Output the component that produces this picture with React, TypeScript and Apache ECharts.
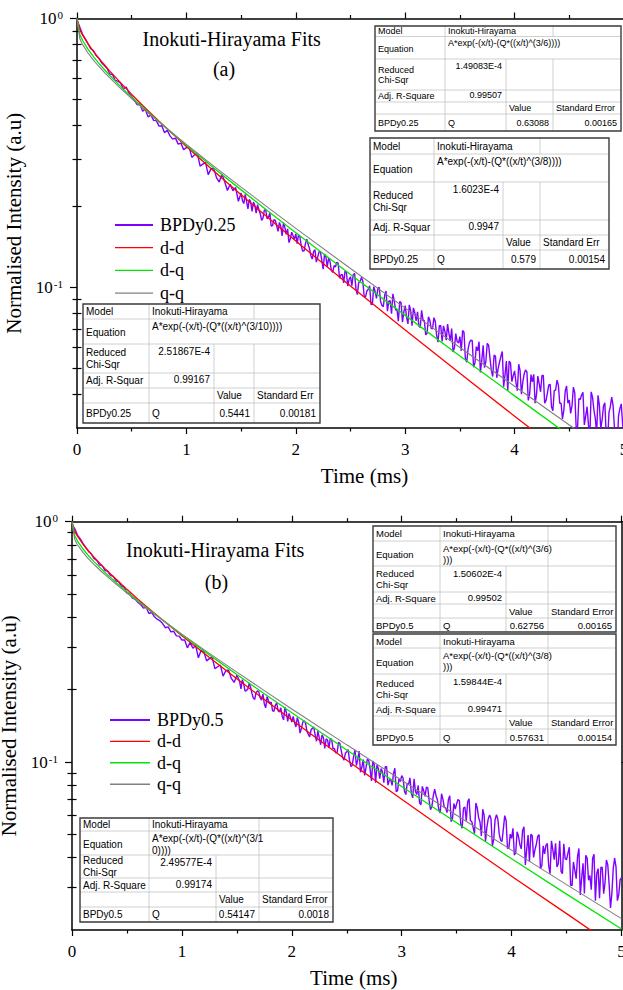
import React, { useEffect, useRef } from 'react';
import * as echarts from 'echarts';

const SERIF = 'Liberation Serif, Times New Roman, serif';
const SANS = 'Liberation Sans, Arial, sans-serif';

// ---------- data ----------
// measured decays: coarse sampling up to 1.5 ms, finer sampling after it
const HEAD_STEP = 0.025; // ms, t = 0 .. 1.5
const TAIL_START = 1.5;
const TAIL_STEP = 0.0125; // ms, t = 1.5125 .. 5

const bpdy025Head = [
  0.985, 0.930, 0.875, 0.842, 0.806, 0.772, 0.760, 0.728, 0.712, 0.684,
  0.668, 0.652, 0.622, 0.618, 0.588, 0.585, 0.574, 0.548, 0.556, 0.528,
  0.512, 0.495, 0.478, 0.481, 0.452, 0.459, 0.430, 0.438, 0.418, 0.417,
  0.398, 0.399, 0.376, 0.384, 0.366, 0.356, 0.359, 0.341, 0.344, 0.325,
  0.331,
  0.3318, 0.3044, 0.3111, 0.3156, 0.2826, 0.2872, 0.2915, 0.2623, 0.2765, 0.2772,
  0.2561, 0.2464, 0.2641, 0.2472, 0.2292, 0.2418, 0.2286, 0.2351, 0.2091, 0.2245,
];
const bpdy025Tail = [
  0.2100, 0.2050, 0.2220, 0.2088, 0.1960, 0.2124, 0.2080, 0.1915, 0.2075, 0.2023,
  0.1887, 0.2032, 0.1944, 0.1880, 0.1777, 0.1811, 0.1938, 0.1944, 0.1801, 0.1821,
  0.1893, 0.1692, 0.1699, 0.1787, 0.1777, 0.1693, 0.1615, 0.1744, 0.1691, 0.1554,
  0.1741, 0.1672, 0.1574, 0.1651, 0.1468, 0.1518, 0.1605, 0.1555, 0.1512, 0.1582,
  0.1455, 0.1567, 0.1543, 0.1424, 0.1365, 0.1365, 0.1451, 0.1510, 0.1446, 0.1396,
  0.1315, 0.1274, 0.1358, 0.1381, 0.1242, 0.1294, 0.1358, 0.1354, 0.1263, 0.1168,
  0.1330, 0.1298, 0.1194, 0.1286, 0.1250, 0.1158, 0.1137, 0.1205, 0.1192, 0.1241,
  0.1229, 0.1082, 0.1112, 0.1118, 0.1039, 0.1151, 0.1136, 0.1011, 0.1071, 0.1096,
  0.1015, 0.1117, 0.1127, 0.0987, 0.0940, 0.1044, 0.1050, 0.1090, 0.1057, 0.0925,
  0.0922, 0.0970, 0.0984, 0.1014, 0.0864, 0.0866, 0.1007, 0.0966, 0.0911, 0.0990,
  0.1000, 0.0886, 0.0857, 0.0848, 0.0935, 0.0970, 0.0816, 0.0888, 0.0892, 0.0799,
  0.0947, 0.0891, 0.0823, 0.0829, 0.0748, 0.0886, 0.0876, 0.0743, 0.0811, 0.0856,
  0.0773, 0.0732, 0.0861, 0.0818, 0.0720, 0.0839, 0.0805, 0.0751, 0.0811, 0.0718,
  0.0709, 0.0822, 0.0757, 0.0751, 0.0666, 0.0675, 0.0777, 0.0754, 0.0704, 0.0701,
  0.0772, 0.0747, 0.0662, 0.0626, 0.0721, 0.0721, 0.0630, 0.0719, 0.0688, 0.0636,
  0.0730, 0.0673, 0.0633, 0.0703, 0.0575, 0.0597, 0.0673, 0.0628, 0.0622, 0.0656,
  0.0581, 0.0691, 0.0681, 0.0544, 0.0527, 0.0591, 0.0625, 0.0636, 0.0635, 0.0505,
  0.0524, 0.0602, 0.0581, 0.0628, 0.0483, 0.0535, 0.0609, 0.0503, 0.0531, 0.0619,
  0.0610, 0.0546, 0.0491, 0.0466, 0.0560, 0.0554, 0.0461, 0.0501, 0.0528, 0.0555,
  0.0578, 0.0427, 0.0474, 0.0532, 0.0413, 0.0532, 0.0524, 0.0446, 0.0470, 0.0489,
  0.0442, 0.0413, 0.0518, 0.0491, 0.0401, 0.0444, 0.0477, 0.0493, 0.0485, 0.0380,
  0.0401, 0.0474, 0.0445, 0.0475, 0.0371, 0.0398, 0.0468, 0.0438, 0.0409, 0.0470,
  0.0470, 0.0371, 0.0380, 0.0405, 0.0434, 0.0436, 0.0359, 0.0348, 0.0413, 0.0415,
  0.0452, 0.0434, 0.0371, 0.0371, 0.0324, 0.0349, 0.0411, 0.0430, 0.0371, 0.0381,
  0.0340, 0.0364, 0.0426, 0.0405, 0.0302, 0.0298, 0.0386, 0.0383, 0.0398, 0.0407,
  0.0308, 0.0333, 0.0360, 0.0308, 0.0279, 0.0409, 0.0391, 0.0350, 0.0326, 0.0286,
  0.0397, 0.0364, 0.0299, 0.0322, 0.0362, 0.0372, 0.0280, 0.0264, 0.0342, 0.0360,
  0.0391, 0.0364, 0.0302, 0.0290, 0.0250, 0.0333, 0.0354, 0.0369, 0.0309, 0.0271,
];

const bpdy05Head = [
  0.970, 0.935, 0.880, 0.848, 0.812, 0.781, 0.752, 0.735, 0.704, 0.690,
  0.662, 0.655, 0.628, 0.622, 0.598, 0.592, 0.568, 0.562, 0.540, 0.535,
  0.505, 0.503, 0.481, 0.476, 0.461, 0.452, 0.437, 0.440, 0.415, 0.419,
  0.402, 0.393, 0.387, 0.377, 0.362, 0.365, 0.348, 0.350, 0.335, 0.334,
  0.322,
  0.3222, 0.2987, 0.3148, 0.2975, 0.3056, 0.2716, 0.2915, 0.2873, 0.2635, 0.2692,
  0.2733, 0.2449, 0.2491, 0.2531, 0.2278, 0.2403, 0.2411, 0.2228, 0.2144, 0.2298,
];
const bpdy05Tail = [
  0.2236, 0.2166, 0.2016, 0.2202, 0.2109, 0.1975, 0.1983, 0.2012, 0.2131, 0.2047,
  0.1929, 0.1845, 0.1822, 0.1948, 0.1976, 0.1958, 0.1847, 0.1811, 0.1917, 0.1745,
  0.1680, 0.1873, 0.1798, 0.1755, 0.1777, 0.1632, 0.1627, 0.1723, 0.1761, 0.1633,
  0.1615, 0.1681, 0.1552, 0.1498, 0.1690, 0.1612, 0.1475, 0.1592, 0.1534, 0.1465,
  0.1549, 0.1460, 0.1399, 0.1529, 0.1466, 0.1319, 0.1381, 0.1465, 0.1485, 0.1451,
  0.1344, 0.1307, 0.1273, 0.1359, 0.1382, 0.1399, 0.1294, 0.1220, 0.1344, 0.1260,
  0.1180, 0.1298, 0.1263, 0.1139, 0.1250, 0.1235, 0.1146, 0.1252, 0.1242, 0.1138,
  0.1140, 0.1091, 0.1096, 0.1208, 0.1195, 0.1116, 0.1044, 0.1019, 0.1087, 0.1104,
  0.1126, 0.1019, 0.0958, 0.0970, 0.1056, 0.1125, 0.0967, 0.1020, 0.1110, 0.0907,
  0.0951, 0.1023, 0.0880, 0.0945, 0.1028, 0.1015, 0.0934, 0.0835, 0.1009, 0.0976,
  0.0820, 0.0973, 0.0940, 0.0852, 0.0939, 0.0910, 0.0820, 0.0956, 0.0957, 0.0801,
  0.0841, 0.0848, 0.0800, 0.0893, 0.0942, 0.0753, 0.0760, 0.0852, 0.0830, 0.0878,
  0.0858, 0.0756, 0.0732, 0.0813, 0.0808, 0.0859, 0.0742, 0.0709, 0.0852, 0.0755,
  0.0732, 0.0799, 0.0677, 0.0664, 0.0792, 0.0760, 0.0720, 0.0786, 0.0780, 0.0689,
  0.0633, 0.0654, 0.0725, 0.0771, 0.0724, 0.0695, 0.0633, 0.0613, 0.0738, 0.0701,
  0.0648, 0.0644, 0.0616, 0.0698, 0.0724, 0.0565, 0.0584, 0.0672, 0.0637, 0.0670,
  0.0698, 0.0690, 0.0551, 0.0530, 0.0644, 0.0650, 0.0570, 0.0682, 0.0704, 0.0571,
  0.0565, 0.0533, 0.0504, 0.0675, 0.0644, 0.0587, 0.0563, 0.0492, 0.0636, 0.0600,
  0.0467, 0.0535, 0.0580, 0.0602, 0.0581, 0.0447, 0.0477, 0.0577, 0.0603, 0.0578,
  0.0501, 0.0473, 0.0467, 0.0527, 0.0598, 0.0571, 0.0437, 0.0437, 0.0501, 0.0481,
  0.0530, 0.0410, 0.0420, 0.0513, 0.0491, 0.0454, 0.0435, 0.0519, 0.0538, 0.0373,
  0.0432, 0.0497, 0.0386, 0.0500, 0.0494, 0.0401, 0.0432, 0.0455, 0.0490, 0.0499,
  0.0360, 0.0370, 0.0448, 0.0415, 0.0450, 0.0458, 0.0371, 0.0343, 0.0470, 0.0432,
  0.0392, 0.0459, 0.0366, 0.0377, 0.0470, 0.0351, 0.0343, 0.0457, 0.0395, 0.0393,
  0.0418, 0.0442, 0.0307, 0.0306, 0.0384, 0.0355, 0.0327, 0.0404, 0.0437, 0.0280,
  0.0329, 0.0379, 0.0284, 0.0409, 0.0398, 0.0322, 0.0337, 0.0294, 0.0398, 0.0413,
  0.0265, 0.0345, 0.0360, 0.0271, 0.0365, 0.0364, 0.0283, 0.0314, 0.0391, 0.0374,
  0.0310, 0.0247, 0.0284, 0.0361, 0.0398, 0.0366, 0.0265, 0.0280, 0.0324, 0.0330,
];

const fitTimes = [0, 0.025, 0.05, 0.1, 0.15, 0.2, 0.25, 0.3, 0.4, 0.5, 0.6, 0.75, 1, 1.25, 1.5, 1.75, 2, 2.5, 3, 3.5, 4, 4.5, 5];

const ddA = [1.0, 0.911, 0.869, 0.806, 0.755, 0.711, 0.673, 0.637, 0.576, 0.522, 0.475, 0.415, 0.334, 0.271, 0.221, 0.181, 0.1487, 0.1012, 0.0695, 0.0479, 0.0332, 0.0231, 0.0161];
const dqA = [1.0, 0.873, 0.830, 0.769, 0.721, 0.681, 0.646, 0.614, 0.558, 0.510, 0.468, 0.413, 0.3376, 0.2782, 0.2305, 0.1916, 0.1597, 0.1117, 0.0787, 0.0556, 0.0395, 0.0281, 0.0201];
const qqA = [1.0, 0.843, 0.801, 0.744, 0.700, 0.663, 0.630, 0.601, 0.549, 0.5036, 0.4638, 0.4117, 0.340, 0.2826, 0.236, 0.1976, 0.1658, 0.1175, 0.0837, 0.0598, 0.0429, 0.0308, 0.0222];

const ddB = [1.0, 0.912, 0.870, 0.807, 0.756, 0.712, 0.674, 0.638, 0.577, 0.523, 0.476, 0.416, 0.335, 0.272, 0.222, 0.182, 0.1495, 0.1018, 0.0700, 0.0483, 0.0335, 0.0234, 0.0163];
const dqB = [1.0, 0.874, 0.831, 0.770, 0.722, 0.682, 0.647, 0.615, 0.559, 0.511, 0.469, 0.414, 0.3385, 0.2791, 0.2313, 0.1923, 0.1604, 0.1122, 0.0791, 0.0559, 0.0396, 0.0282, 0.0202];
const qqB = [1.0, 0.844, 0.802, 0.745, 0.701, 0.664, 0.631, 0.602, 0.550, 0.5044, 0.4646, 0.4125, 0.3407, 0.2833, 0.2366, 0.1982, 0.1663, 0.1179, 0.0840, 0.0600, 0.0430, 0.0309, 0.0223];

const xTicks = [0, 5, 1]; // min, max, interval
const yMajorTicks = [0.1, 1];
const yMinorTicksA = [0.04, 0.05, 0.06, 0.07, 0.08, 0.09, 0.2, 0.3, 0.4, 0.5, 0.6, 0.7, 0.8, 0.9];
const yMinorTicksB = [0.03, 0.04, 0.05, 0.06, 0.07, 0.08, 0.09, 0.2, 0.3, 0.4, 0.5, 0.6, 0.7, 0.8, 0.9];
const yMinA = 0.03;
const yMinB = 0.02;

const seriesNamesA = ['BPDy0.25', 'd-d', 'd-q', 'q-q'];
const seriesNamesB = ['BPDy0.5', 'd-d', 'd-q', 'q-q'];
const seriesColors = ['#8000ff', '#ff0000', '#00e600', '#808080'];

// fit tables
const fitModel = 'Inokuti-Hirayama';
const equationsA = ['A*exp(-(x/t)-(Q*((x/t)^(3/6))))', 'A*exp(-(x/t)-(Q*((x/t)^(3/8))))', 'A*exp(-(x/t)-(Q*((x/t)^(3/10))))'];
const chiSqrA = ['1.49083E-4', '1.6023E-4', '2.51867E-4'];
const adjR2A = ['0.99507', '0.9947', '0.99167'];
const adjLabelA = ['Adj. R-Square', 'Adj. R-Squar', 'Adj. R-Squar'];
const errHeadA = ['Standard Error', 'Standard Err', 'Standard Err'];
const qValueA = ['0.63088', '0.579', '0.5441'];
const qErrorA = ['0.00165', '0.00154', '0.00181'];

const equationsB = ['A*exp(-(x/t)-(Q*((x/t)^(3/6)\n)))', 'A*exp(-(x/t)-(Q*((x/t)^(3/8)\n)))', 'A*exp(-(x/t)-(Q*((x/t)^(3/1\n0))))'];
const chiSqrB = ['1.50602E-4', '1.59844E-4', '2.49577E-4'];
const adjR2B = ['0.99502', '0.99471', '0.99174'];
const adjLabelB = ['Adj. R-Square', 'Adj. R-Square', 'Adj. R-Square'];
const errHeadB = ['Standard Error', 'Standard Error', 'Standard Error'];
const qValueB = ['0.62756', '0.57631', '0.54147'];
const qErrorB = ['0.00165', '0.00154', '0.0018'];

// ---------- layout (positions only) ----------
const tableLayoutA = [
  { cols: [375, 445, 506, 553, 621], rows: [26, 36.5, 59, 90, 102, 114, 131], fs: 9 },
  { cols: [370, 434, 503, 540, 609], rows: [138, 154, 182, 220, 235, 250, 269], fs: 10 },
  { cols: [83, 149, 214, 254, 320], rows: [304, 319, 344, 373, 388, 403, 423], fs: 10 },
];
const tableLayoutB = [
  { cols: [373, 440, 506, 548, 616], rows: [526, 541, 566, 592, 604, 618, 632], fs: 9.5 },
  { cols: [373, 440, 506, 548, 616], rows: [634, 648, 674, 703, 716, 729, 745], fs: 9.5 },
  { cols: [80, 149, 216, 259, 333], rows: [818, 831, 855, 878, 892, 907, 922], fs: 10 },
];

function tText(x: number, y: number, text: string, fs: number, align = 'left', va = 'middle') {
  return {
    type: 'text',
    z: 103,
    silent: true,
    style: {
      x, y, text, fill: '#000', fontSize: fs, fontFamily: SANS,
      align, verticalAlign: va,
      lineHeight: Math.round(fs * 1.15),
    },
  };
}
function tLine(x1: number, y1: number, x2: number, y2: number) {
  return { type: 'line', z: 101, silent: true, shape: { x1, y1, x2, y2 }, style: { stroke: '#c4c4c4', lineWidth: 0.8 } };
}

function buildTable(lay: any, eq: string, chi: string, adjLabel: string, r2: string, errHead: string, sample: string, q: string, err: string, splitEq: boolean) {
  const c = lay.cols;
  const r = lay.rows;
  const fs = lay.fs;
  const els: any[] = [];
  els.push({ type: 'rect', z: 100, silent: true, shape: { x: c[0], y: r[0], width: c[4] - c[0], height: r[6] - r[0] }, style: { fill: '#fff', stroke: null } });
  for (let i = 1; i <= 5; i++) els.push(tLine(c[0], r[i], c[4], r[i]));
  els.push(tLine(c[1], r[0], c[1], r[6]));
  els.push(tLine(c[3], r[0], c[3], r[1]));
  if (splitEq) els.push(tLine(c[3], r[1], c[3], r[2]));
  els.push(tLine(c[2], r[2], c[2], r[6]));
  els.push(tLine(c[3], r[2], c[3], r[6]));
  els.push({ type: 'rect', z: 102, silent: true, shape: { x: c[0], y: r[0], width: c[4] - c[0], height: r[6] - r[0] }, style: { fill: null, stroke: '#3a3a3a', lineWidth: 1.4 } });
  const mid = (i: number) => (r[i] + r[i + 1]) / 2;
  els.push(tText(c[0] + 3, mid(0), 'Model', fs));
  els.push(tText(c[1] + 3, mid(0), fitModel, fs));
  els.push(tText(c[0] + 3, mid(1) + 1, 'Equation', fs));
  els.push(tText(c[1] + 3, r[1] + 1.5, eq, fs, 'left', 'top'));
  els.push(tText(c[0] + 3, mid(2), 'Reduced\nChi-Sqr', fs));
  els.push(tText(c[2] - 4, r[2] + 1.5, chi, fs, 'right', 'top'));
  els.push(tText(c[0] + 3, mid(3), adjLabel, fs));
  els.push(tText(c[2] - 4, mid(3) - 1, r2, fs, 'right'));
  els.push(tText(c[2] + 3, mid(4), 'Value', fs));
  els.push(tText(c[3] + 3, mid(4), errHead, fs));
  els.push(tText(c[0] + 3, mid(5), sample, fs));
  els.push(tText(c[1] + 3, mid(5), 'Q', fs));
  els.push(tText(c[3] - 4, mid(5), q, fs, 'right'));
  els.push(tText(c[4] - 4, mid(5), err, fs, 'right'));
  return els;
}

function titleText(x: number, y: number, text: string, align = 'left') {
  return {
    type: 'text', z: 90, silent: true,
    style: { x, y, text, fill: '#000', fontSize: 20, fontFamily: SERIF, align, verticalAlign: 'middle' },
  };
}

const axisColor = '#000';
const tickStyle = { color: axisColor, width: 1.2 };

function xAxesFor(gridIndex: number, namePadLeft: number) {
  const base = { type: 'value', gridIndex, min: xTicks[0], max: xTicks[1], interval: xTicks[2], splitLine: { show: false } };
  return [
    {
      ...base,
      position: 'bottom',
      axisLine: { show: true, onZero: false, lineStyle: { color: axisColor, width: 1.5 } },
      axisTick: { show: true, inside: false, length: 6, lineStyle: tickStyle },
      minorTick: { show: true, splitNumber: 2, length: 3.5, lineStyle: tickStyle },
      axisLabel: { color: '#000', fontFamily: SERIF, fontSize: 17, margin: 13 },
      name: 'Time (ms)',
      nameLocation: 'middle',
      nameGap: 37,
      nameTextStyle: { color: '#000', fontFamily: SERIF, fontSize: 21, padding: [0, 0, 0, namePadLeft] },
    },
    {
      ...base,
      position: 'top',
      axisLine: { show: true, onZero: false, lineStyle: { color: axisColor, width: 1.5 } },
      axisTick: { show: true, inside: false, length: 6, lineStyle: tickStyle },
      minorTick: { show: true, splitNumber: 2, length: 3.5, lineStyle: tickStyle },
      axisLabel: { show: false },
    },
  ];
}

function yAxesFor(gridIndex: number, min: number, minor: number[], nameGap: number) {
  const base = { type: 'log', logBase: 10, gridIndex, min, max: 1, splitLine: { show: false }, minorSplitLine: { show: false } };
  return [
    {
      ...base,
      position: 'left',
      axisLine: { show: true, onZero: false, lineStyle: { color: axisColor, width: 1.5 } },
      axisTick: { show: true, inside: false, length: 7, lineStyle: tickStyle, customValues: yMajorTicks },
      axisLabel: {
        customValues: yMajorTicks,
        margin: 14,
        formatter: (v: number) => `{b|10}{s|${Math.round(Math.log10(v))}}`,
        rich: {
          b: { fontFamily: SERIF, fontSize: 17, color: '#000', lineHeight: 18 },
          s: { fontFamily: SERIF, fontSize: 11, color: '#000', verticalAlign: 'top', lineHeight: 12, padding: [0, 0, 0, 1] },
        },
      },
      name: 'Normalised Intensity (a.u)',
      nameLocation: 'middle',
      nameGap,
      nameTextStyle: { color: '#000', fontFamily: SERIF, fontSize: 21 },
    },
    {
      ...base,
      position: 'left',
      axisLine: { show: false },
      axisTick: { show: true, inside: false, length: 4.5, lineStyle: tickStyle, customValues: minor },
      axisLabel: { show: false },
    },
    {
      ...base,
      position: 'right',
      axisLine: { show: true, onZero: false, lineStyle: { color: axisColor, width: 1.5 } },
      axisTick: { show: true, inside: false, length: 7, lineStyle: tickStyle, customValues: yMajorTicks },
      axisLabel: { show: false },
    },
    {
      ...base,
      position: 'right',
      axisLine: { show: false },
      axisTick: { show: true, inside: false, length: 4.5, lineStyle: tickStyle, customValues: minor },
      axisLabel: { show: false },
    },
  ];
}

function measuredPoints(head: number[], tail: number[]) {
  const pts: number[][] = head.map((v, i) => [i * HEAD_STEP, v]);
  tail.forEach((v, i) => pts.push([TAIL_START + (i + 1) * TAIL_STEP, v]));
  return pts;
}

function seriesFor(xIdx: number, yIdx: number, names: string[], measured: number[][], fits: number[][]) {
  const out: any[] = [];
  out.push({
    type: 'line', name: names[0], xAxisIndex: xIdx, yAxisIndex: yIdx,
    data: measured,
    symbol: 'none', showSymbol: false, clip: true,
    lineStyle: { color: seriesColors[0], width: 1.4 }, itemStyle: { color: seriesColors[0] },
    z: 2,
  });
  fits.forEach((f, k) => {
    out.push({
      type: 'line', name: names[k + 1], xAxisIndex: xIdx, yAxisIndex: yIdx,
      data: f.map((v, i) => [fitTimes[i], v]),
      symbol: 'none', showSymbol: false, clip: true,
      lineStyle: { color: seriesColors[k + 1], width: k === 2 ? 1.1 : 1.3 },
      itemStyle: { color: seriesColors[k + 1] },
      z: 3 + k,
    });
  });
  return out;
}

function legendItems(names: string[]) {
  return names.map((n, i) => ({
    name: n,
    icon: i === 0 ? 'path://M0,0H40V2H0Z' : 'path://M0,0H40V1.4H0Z',
  }));
}

export default function App() {
  const ref = useRef<HTMLDivElement>(null);
  useEffect(() => {
    if (!ref.current) return;
    const chart = echarts.init(ref.current, null, { renderer: 'svg' });

    const graphics: any[] = [];
    graphics.push(titleText(142.5, 39, 'Inokuti-Hirayama Fits'));
    graphics.push(titleText(224, 69, '(a)', 'center'));
    graphics.push(titleText(126, 549.5, 'Inokuti-Hirayama Fits'));
    graphics.push(titleText(216.5, 582, '(b)', 'center'));
    tableLayoutA.forEach((lay, i) => {
      graphics.push(...buildTable(lay, equationsA[i], chiSqrA[i], adjLabelA[i], adjR2A[i], errHeadA[i], seriesNamesA[0], qValueA[i], qErrorA[i], false));
    });
    tableLayoutB.forEach((lay, i) => {
      graphics.push(...buildTable(lay, equationsB[i], chiSqrB[i], adjLabelB[i], adjR2B[i], errHeadB[i], seriesNamesB[0], qValueB[i], qErrorB[i], true));
    });

    const legendText = { fontFamily: SERIF, fontSize: 18, color: '#000', padding: [0, 0, 0, 2] };

    chart.setOption({
      animation: false,
      backgroundColor: '#fff',
      grid: [
        { left: 77, top: 18.5, width: 547, height: 409.5, containLabel: false, outerBoundsMode: 'none' },
        { left: 72, top: 521.7, width: 549.5, height: 408.3, containLabel: false, outerBoundsMode: 'none' },
      ],
      xAxis: [...xAxesFor(0, 28), ...xAxesFor(1, 14)],
      yAxis: [...yAxesFor(0, yMinA, yMinorTicksA, 44), ...yAxesFor(1, yMinB, yMinorTicksB, 37.5)],
      legend: [
        {
          data: legendItems(seriesNamesA), orient: 'vertical', left: 110, top: 211,
          itemWidth: 38, itemHeight: 14, itemGap: 4.7, textStyle: legendText,
          selectedMode: false,
        },
        {
          data: legendItems(seriesNamesB), orient: 'vertical', left: 105, top: 706,
          itemWidth: 40, itemHeight: 14, itemGap: 3.4, textStyle: legendText,
          selectedMode: false,
        },
      ],
      series: [
        ...seriesFor(0, 0, seriesNamesA, measuredPoints(bpdy025Head, bpdy025Tail), [ddA, dqA, qqA]),
        ...seriesFor(2, 4, seriesNamesB, measuredPoints(bpdy05Head, bpdy05Tail), [ddB, dqB, qqB]),
      ],
      graphic: { elements: graphics },
    });
    return () => chart.dispose();
  }, []);
  return <div ref={ref} style={{ position: 'absolute', left: 0, top: 0, width: 623, height: 990 }} />;
}
